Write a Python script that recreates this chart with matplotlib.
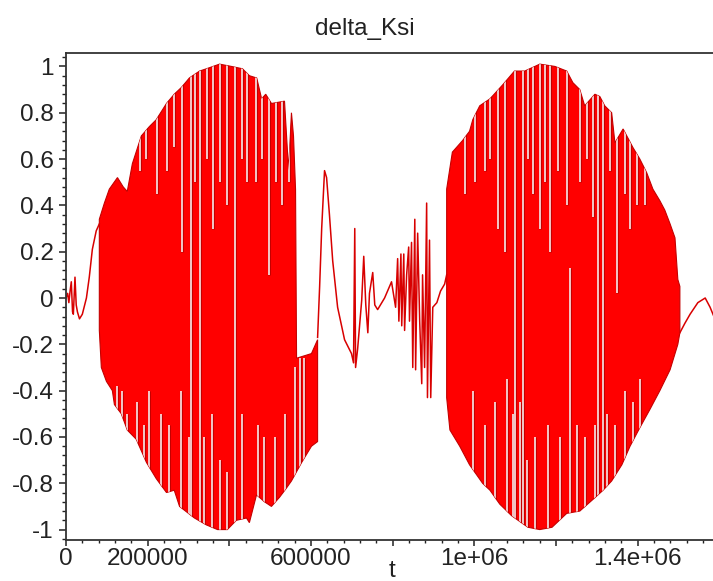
import numpy as np
import matplotlib
matplotlib.use('Agg')
import matplotlib.pyplot as plt
from matplotlib.ticker import FixedLocator, MultipleLocator

plt.rcParams['font.family'] = ['Liberation Sans', 'DejaVu Sans']
plt.rcParams['axes.unicode_minus'] = False

# slow start before the first burst
t_start = [0, 4000, 7000, 10000, 13000, 16000, 18000, 22000, 25000, 28000,
           33000, 40000, 50000, 57000, 64500, 74000, 81600]
y_start = [0.0, 0.02, -0.02, 0.03, 0.07, -0.06, -0.07, 0.09, -0.03, -0.06,
           -0.09, -0.07, 0.0, 0.09, 0.21, 0.29, 0.32]

# first burst: upper and lower envelope
t_up1 = [81600, 94000, 106000, 126000, 140000, 150000, 162500, 184500, 204000,
         221000, 246000, 265000, 283000, 302000, 327000, 344000, 376000, 405000,
         432000, 449000, 467000, 479000, 489000, 503000, 535000, 545000, 552000,
         557000, 562000, 564500, 601000, 616000]
y_up1 = [0.34, 0.41, 0.47, 0.52, 0.48, 0.46, 0.58, 0.70, 0.74,
         0.77, 0.84, 0.88, 0.91, 0.95, 0.98, 0.99, 1.01, 1.0,
         0.99, 0.96, 0.95, 0.86, 0.88, 0.84, 0.85, 0.55, 0.80,
         0.70, 0.47, -0.26, -0.24, -0.18]
t_lo1 = [81600, 86500, 99000, 113500, 118500, 135500, 150000, 172000, 197000,
         221000, 246000, 265000, 278000, 314500, 344000, 371000, 395000, 417000,
         442000, 449000, 466500, 486000, 503000, 523000, 540000, 552000, 577000,
         601000, 616000]
y_lo1 = [-0.14, -0.30, -0.36, -0.40, -0.46, -0.50, -0.57, -0.61, -0.71,
         -0.78, -0.84, -0.83, -0.90, -0.95, -0.98, -1.0, -1.0, -0.96,
         -0.95, -0.97, -0.85, -0.88, -0.90, -0.86, -0.82, -0.79, -0.71,
         -0.64, -0.62]

# ringing between the bursts
t_mid = [616000, 621000, 626000, 633000, 638000, 645000, 653000, 665000, 682000,
         699000, 704000, 707000, 709000, 714000, 724000, 729000, 734000, 739000,
         743000, 751000, 756000, 763000, 780000, 797000, 807000, 812000, 815000,
         820000, 822000, 827000, 829000, 834000, 839000, 841000, 846000, 849000,
         854000, 856000, 861000, 866000, 871000, 873000, 878000, 883000, 885000,
         890000, 893000, 898000, 908000, 917000, 927000, 932000]
y_mid = [-0.17, 0.05, 0.30, 0.55, 0.52, 0.36, 0.16, -0.04, -0.18,
         -0.24, -0.28, 0.30, -0.30, -0.22, -0.01, 0.18, -0.03, -0.15,
         0.02, 0.11, -0.03, -0.05, 0.0, 0.07, -0.04, 0.17, -0.10,
         0.19, -0.12, 0.19, -0.14, 0.10, 0.22, -0.10, 0.24, -0.30,
         0.34, -0.31, 0.28, -0.10, -0.37, 0.10, -0.30, 0.41, -0.43,
         0.25, -0.43, -0.04, -0.02, 0.03, 0.06, 0.10]

# second burst
t_up2 = [932000, 946000, 971000, 988000, 996000, 1013000, 1038000, 1069000,
         1098000, 1123000, 1148000, 1160000, 1197000, 1226000, 1241000, 1258000,
         1270000, 1295000, 1307000, 1319000, 1336000, 1344000, 1364000, 1388000,
         1405000, 1422000, 1437000, 1454000, 1466000, 1479000, 1491000, 1498000,
         1503000]
y_up2 = [0.47, 0.63, 0.68, 0.72, 0.77, 0.83, 0.86, 0.92,
         0.98, 0.98, 1.0, 1.01, 1.0, 0.98, 0.93, 0.90,
         0.83, 0.88, 0.87, 0.83, 0.80, 0.67, 0.73, 0.65,
         0.60, 0.54, 0.47, 0.42, 0.38, 0.32, 0.26, 0.08,
         0.05]
t_lo2 = [932000, 940000, 964000, 988000, 1020000, 1038000, 1062000, 1091000,
         1131000, 1160000, 1190000, 1226000, 1258000, 1290000, 1315000, 1336000,
         1361000, 1381000, 1405000, 1430000, 1454000, 1479000, 1498000, 1503000]
y_lo2 = [-0.43, -0.57, -0.64, -0.72, -0.80, -0.83, -0.89, -0.94,
         -0.99, -1.0, -0.99, -0.93, -0.92, -0.87, -0.83, -0.79,
         -0.72, -0.64, -0.56, -0.48, -0.40, -0.31, -0.20, -0.15]

# tail after the second burst
t_end = [1503000, 1515000, 1528000, 1547000, 1565000, 1577000, 1584000, 1591000]
y_end = [-0.15, -0.11, -0.07, -0.02, 0.0, -0.04, -0.07, -0.10]

# gaps between the fast oscillations, coming down from the top edge
top1_t = [307000, 329000, 415000,
          180000, 197000, 223500, 248000, 265000, 285000, 317000, 346000,
          361000, 378000, 395000, 432000, 444000, 464000, 479000, 498000,
          515000, 528000, 545000]
top1_lo = [-1.1, -1.1, -1.1,
           0.55, 0.6, 0.45, 0.55, 0.65, 0.2, 0.5, 0.6,
           0.3, 0.5, 0.4, 0.6, 0.5, 0.5, 0.6, 0.1,
           0.5, 0.4, 0.5]
# and going up from the bottom edge
bot1_t = [125500, 138000, 150000, 175000, 192000, 204000, 233500, 253000,
          282500, 302000, 339000, 358500, 378000, 395000, 432000, 469000,
          486000, 510500, 535000, 559500, 574000, 581500]
bot1_hi = [-0.38, -0.4, -0.5, -0.45, -0.55, -0.4, -0.5, -0.55,
           -0.4, -0.6, -0.6, -0.5, -0.7, -0.75, -0.5, -0.55,
           -0.6, -0.6, -0.5, -0.3, -0.26, -0.26]

top2_t = [1099000, 1118000, 1302000, 1315000,
          976000, 1001000, 1025000, 1038000, 1057000, 1074000, 1131000, 1143000,
          1160000, 1172000, 1185000, 1205000, 1226000, 1258000, 1275000, 1290000,
          1332000, 1349000, 1368000, 1381000, 1398000, 1418000]
top2_lo = [-1.1, -1.1, -1.1, -1.1,
           0.45, 0.5, 0.55, 0.6, 0.3, 0.2, 0.6, 0.45,
           0.3, 0.5, 0.2, 0.55, 0.4, 0.5, 0.6, 0.35,
           0.55, 0.02, 0.45, 0.3, 0.4, 0.4]
bot2_t = [996000, 1025000, 1050000, 1079000, 1094000, 1111000, 1128000, 1148000,
          1180000, 1209000, 1234000, 1251000, 1270000, 1295000, 1324000, 1344000,
          1368000, 1388000, 1405000]
bot2_hi = [-0.4, -0.55, -0.45, -0.35, -0.5, -0.45, -0.7, -0.6,
           -0.55, -0.6, 0.13, -0.55, -0.6, -0.55, -0.5, -0.55,
           -0.4, -0.45, -0.35]

x_ticks = [0, 200000, 400000, 600000, 800000, 1000000, 1200000, 1400000]
x_labels = ['0', '200000', '', '600000', '', '1e+06', '', '1.4e+06']
y_ticks = [-1, -0.8, -0.6, -0.4, -0.2, 0, 0.2, 0.4, 0.6, 0.8, 1]
y_labels = ['-1', '-0.8', '-0.6', '-0.4', '-0.2', '0', '0.2', '0.4', '0.6', '0.8', '1']

red = '#ff0000'
dark = '#c40000'

fig = plt.figure(figsize=(7.13, 5.81), dpi=100)
ax = fig.add_axes([66 / 713, 41 / 581, 649 / 713, 487 / 581])

bursts = [(t_up1, y_up1, t_lo1, y_lo1, top1_t, top1_lo, bot1_t, bot1_hi),
          (t_up2, y_up2, t_lo2, y_lo2, top2_t, top2_lo, bot2_t, bot2_hi)]
for tu, yu, tl, yl, tt, tlo, bt, bhi in bursts:
    px = np.concatenate([tu, tl[::-1]])
    py = np.concatenate([yu, yl[::-1]])
    patch = ax.fill(px, py, facecolor=red, edgecolor='none')[0]
    # gaps are cut to the burst outline
    for c, w in [(dark, 2.2), ('white', 1.1)]:
        lc = ax.vlines(tt, tlo, 1.1, color=c, lw=w)
        lc.set_clip_path(patch)
        lc = ax.vlines(bt, -1.1, bhi, color=c, lw=w)
        lc.set_clip_path(patch)
    ax.fill(px, py, facecolor='none', edgecolor=dark, lw=0.8)

for tt, yy in [(t_start, y_start), (t_mid, y_mid), (t_end, y_end)]:
    ax.plot(tt, yy, color='#d80000', lw=1.1)

ax.set_xlim(0, 1589000)
ax.set_ylim(-1.045, 1.058)

ax.xaxis.set_major_locator(FixedLocator(x_ticks))
ax.set_xticklabels(x_labels)
ax.xaxis.set_minor_locator(MultipleLocator(40000))
ax.yaxis.set_major_locator(FixedLocator(y_ticks))
ax.set_yticklabels(y_labels)
ax.yaxis.set_minor_locator(MultipleLocator(0.04))

ax.tick_params(axis='x', which='major', direction='out', length=4.5, width=1.1,
               pad=1.5, labelsize=17.5, colors='#222222')
ax.tick_params(axis='x', which='minor', direction='out', length=2.5, width=1.0,
               colors='#222222')
ax.tick_params(axis='y', which='major', direction='out', length=5, width=1.1,
               pad=4, labelsize=17.5, colors='#222222')
ax.tick_params(axis='y', which='minor', direction='out', length=3, width=1.0,
               colors='#222222')

for s in ['left', 'bottom', 'top']:
    ax.spines[s].set_color('#333333')
    ax.spines[s].set_linewidth(1.3)
ax.spines['right'].set_visible(False)

fig.text(365 / 713, 1 - 35 / 581, 'delta_Ksi', ha='center', va='baseline',
         fontsize=17.5, color='#222222')
fig.text(392 / 713, 1 - 560 / 581, 't', ha='center', va='top',
         fontsize=17.5, color='#222222')

fig.savefig('out.png', dpi=100)
